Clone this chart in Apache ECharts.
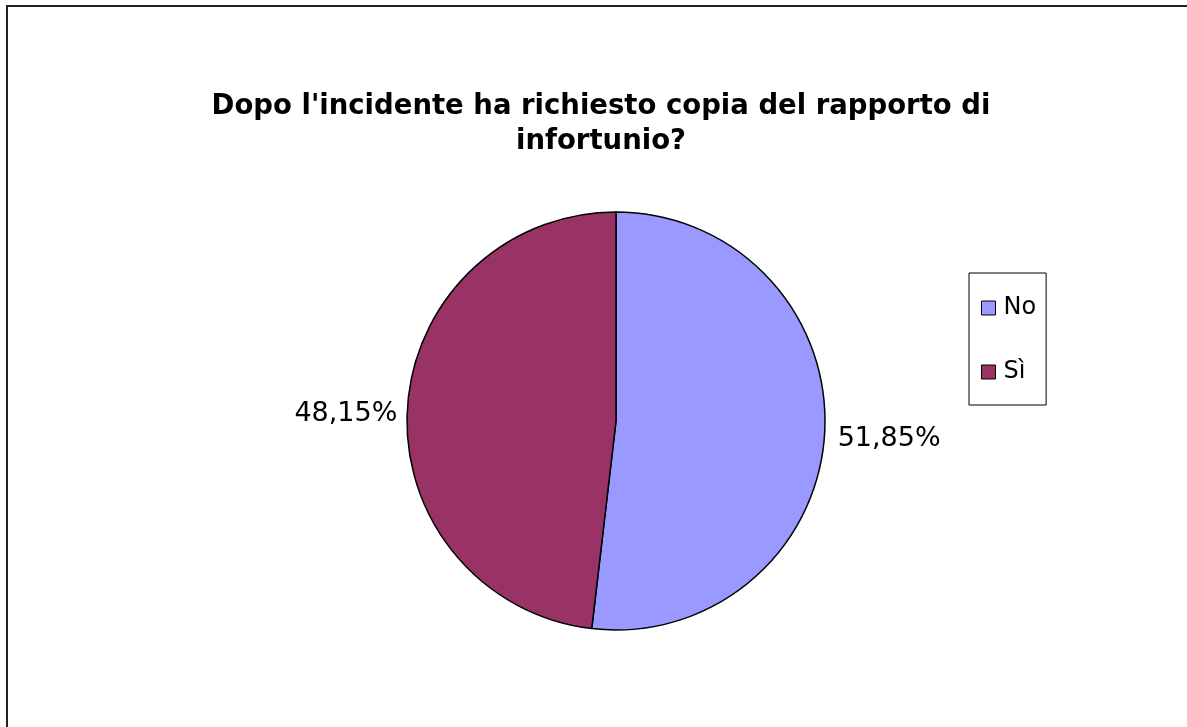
<!DOCTYPE html>
<html>
<head>
<meta charset="utf-8">
<script src="https://cdn.jsdelivr.net/npm/echarts@6/dist/echarts.min.js"></script>
<style>
  html, body { margin: 0; padding: 0; background: #fff; }
  #chart { width: 1187px; height: 727px; }
</style>
</head>
<body>
<div id="chart"></div>
<script>
// Survey answers: counts per reply
const categories = ['No', 'Sì'];
const counts = [14, 13];
const colors = ['#9999FF', '#993366'];
const titleLines = ["Dopo l'incidente ha richiesto copia del rapporto di", 'infortunio?'];

const total = counts.reduce((a, b) => a + b, 0);
const pieData = categories.map((name, i) => ({
  name: name,
  value: counts[i],
  itemStyle: { color: colors[i] }
}));

const fontFamily = 'Verdana, "DejaVu Sans", sans-serif';
const pieCenter = [616, 421];

const chart = echarts.init(document.getElementById('chart'), null, { renderer: 'canvas' });
chart.setOption({
  animation: false,
  backgroundColor: '#ffffff',
  graphic: [{
    type: 'rect',
    shape: { x: 7, y: 6, width: 1220, height: 760 },
    style: { fill: 'none', stroke: '#222', lineWidth: 2 },
    silent: true
  }],
  title: {
    text: titleLines.join('\n'),
    left: 596,
    top: 84,
    textAlign: 'center',
    textStyle: {
      fontFamily: fontFamily,
      fontWeight: 'bold',
      fontSize: 27.5,
      lineHeight: 35,
      color: '#000'
    }
  },
  legend: {
    orient: 'vertical',
    left: 969,
    top: 273,
    padding: [23, 10, 21, 12],
    itemGap: 40,
    itemWidth: 14,
    itemHeight: 14,
    icon: 'rect',
    borderColor: '#000',
    borderWidth: 1,
    itemStyle: { borderColor: '#000', borderWidth: 1 },
    textStyle: { fontFamily: fontFamily, fontSize: 24, lineHeight: 24, color: '#000', padding: [0, 0, 0, 3] },
    data: categories
  },
  series: [{
    type: 'pie',
    center: pieCenter,
    radius: 209,
    startAngle: 90,
    clockwise: true,
    data: pieData,
    itemStyle: { borderColor: '#000', borderWidth: 1.5 },
    emphasis: { disabled: true },
    label: {
      show: true,
      position: 'outside',
      fontFamily: fontFamily,
      fontSize: 27,
      color: '#000',
      formatter: (p) => (p.value / total * 100).toFixed(2).replace('.', ',') + '%'
    },
    labelLine: { show: false, length: 6, length2: 2 },
    // nudge the outside labels slightly below their slice midpoints
    labelLayout: (params) => ({
      dy: 5,
      dx: params.labelRect.x < pieCenter[0] ? 3 : 0
    })
  }]
});
</script>
</body>
</html>
